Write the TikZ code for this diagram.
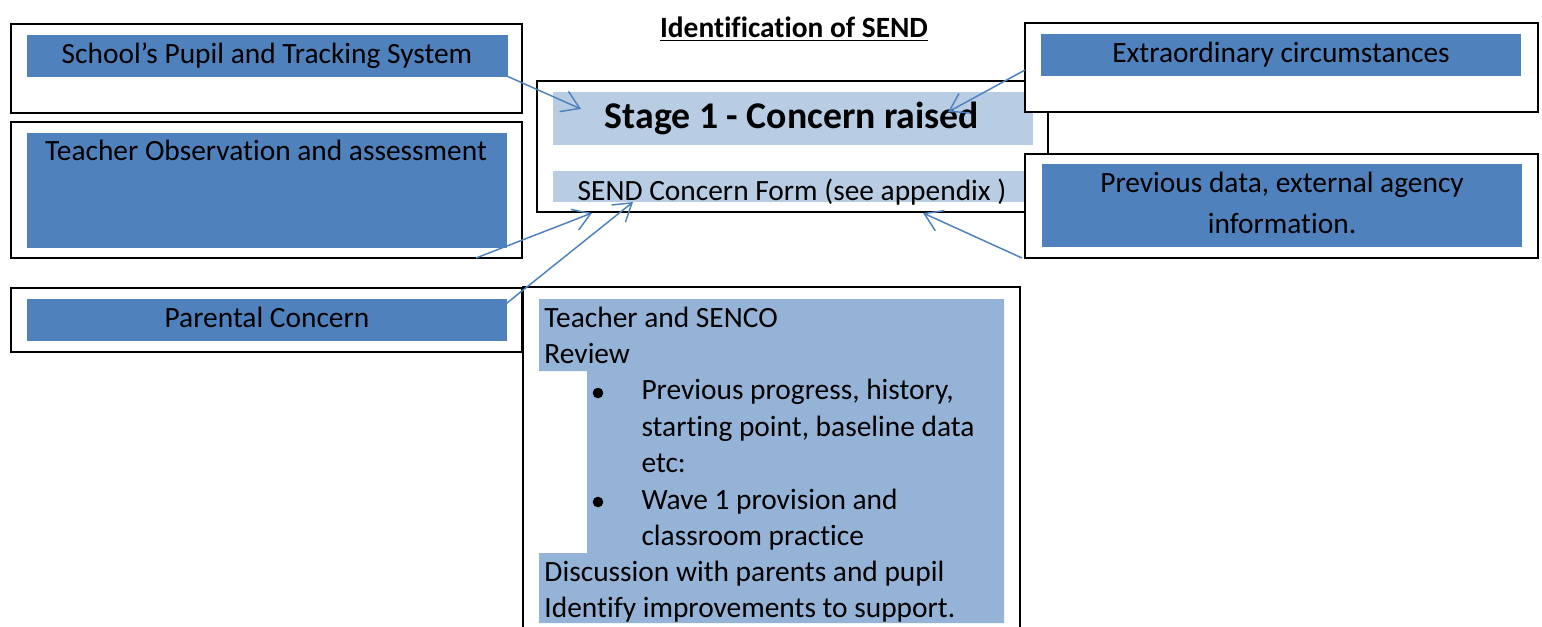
\documentclass[tikz,border=0pt]{standalone}
\usepackage{fontspec}
\setmainfont[Ligatures=NoCommon]{Carlito}
\usetikzlibrary{arrows.meta,fit}
\definecolor{accent}{HTML}{4F81BD}
\definecolor{lightband}{HTML}{B8CCE4}
\definecolor{midblue}{HTML}{95B3D7}
\begin{document}
\begin{tikzpicture}[x=0.408pt,y=-0.408pt,
  frame/.style={draw=black,line width=0.8pt,fill=white,inner sep=0pt},
  bluefill/.style={fill=accent,draw=none,inner sep=0pt},
  bandfill/.style={fill=lightband,draw=none,inner sep=0pt},
  txt/.style={font=\fontsize{12}{14.6}\selectfont,inner sep=0pt,anchor=base},
  ltxt/.style={txt,anchor=base west},
  conn/.style={draw=accent,line width=0.6pt,-{Straight Barb[length=7pt,width=9pt]}}]
\clip (0,0) rectangle (1542,626);
\fill[white] (0,0) rectangle (1542,626);

% title
\node[txt] (title) at (794,37) {\bfseries\underline{Identification of SEND}};

% left boxes
\node[frame,fit={(11,24)(522,113)}] (schoolbox) {};
\node[bluefill,fit={(27,35)(508,77)}] (schoolband) {};
\node[txt] (schooltxt) at (267,63) {School’s Pupil and Tracking System};

\node[frame,fit={(11,122)(522,258)}] (teachbox) {};
\node[bluefill,fit={(27,133)(507,248)}] (teachband) {};
\node[txt] (teachtxt) at (266,160) {Teacher Observation and assessment};

\node[frame,fit={(11,288)(522,352)}] (parentbox) {};
\node[bluefill,fit={(27,299)(507,341)}] (parentband) {};
\node[txt] (parenttxt) at (267,327) {Parental Concern};

% stage box
\node[frame,fit={(537,81)(1048,212)}] (stagebox) {};
\node[bandfill,fit={(553,92)(1033,145)}] (stageband) {};
\node[bandfill,fit={(553,171)(1030,202)}] (formband) {};
\node[txt,font=\fontsize{15.4}{18}\selectfont\bfseries] (stagetxt) at (792,128) {Stage 1 - Concern raised};
\node[txt] (formtxt) at (792,200) {SEND Concern Form (see appendix )};

% right boxes
\node[frame,fit={(1025,23)(1538,112)}] (extrabox) {};
\node[bluefill,fit={(1041,34)(1521,76)}] (extraband) {};
\node[txt] (extratxt) at (1281,62) {Extraordinary circumstances};

\node[frame,fit={(1025,154)(1538,258)}] (prevbox) {};
\node[bluefill,fit={(1042,164)(1522,247)}] (prevband) {};
\node[txt] (prevtxt1) at (1282,192) {Previous data, external agency};
\node[txt] (prevtxt2) at (1282,233) {information.};

% review box
\node[frame,fit={(523,287)(1020,650)}] (reviewbox) {};
\fill[midblue] (539,299) -- (1004,299) -- (1004,623) -- (539,623) -- (539,553) -- (587,553) -- (587,371) -- (539,371) -- cycle;
\node[ltxt] (r1) at (544,327) {Teacher and SENCO};
\node[ltxt] (r2) at (544,363) {Review};
\node[ltxt] (r3) at (641,399) {Previous progress, history,};
\node[ltxt] (r4) at (641,436) {starting point, baseline data};
\node[ltxt] (r5) at (641,472) {etc:};
\node[ltxt] (r6) at (641,509) {Wave 1 provision and};
\node[ltxt] (r7) at (641,545) {classroom practice};
\node[ltxt] (r8) at (544,581) {Discussion with parents and pupil};
\node[ltxt] (r9) at (544,617) {Identify improvements to support.};
\fill[black] (598,393) circle[radius=5.3];
\fill[black] (598,502) circle[radius=5.3];

% connectors
\coordinate (a1s) at (491,69);  \coordinate (a1e) at (581,109);
\coordinate (a2s) at (1025,70); \coordinate (a2e) at (948,112);
\coordinate (a3s) at (476,258); \coordinate (a3e) at (592,213);
\coordinate (a4s) at (492,315); \coordinate (a4e) at (633,202);
\coordinate (a5s) at (1022,258); \coordinate (a5e) at (923,213);
\draw[conn] (a1s) -- (a1e);
\draw[conn] (a2s) -- (a2e);
\draw[conn] (a3s) -- (a3e);
\draw[conn] (a4s) -- (a4e);
\draw[conn] (a5s) -- (a5e);
\end{tikzpicture}
\end{document}
